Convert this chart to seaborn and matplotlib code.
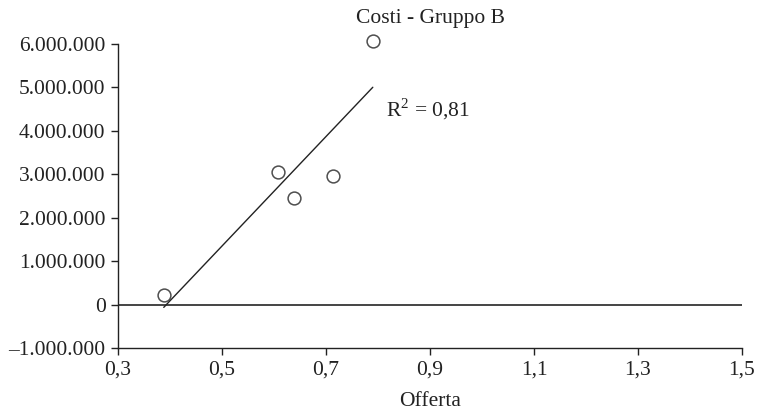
import matplotlib
matplotlib.use("Agg")
import matplotlib.pyplot as plt
import matplotlib.ticker as mticker
import seaborn as sns
import pandas as pd

offerta = [0.388, 0.608, 0.638, 0.713, 0.790]
costi = [220000, 3060000, 2460000, 2960000, 6070000]
x_ticks = [0.3, 0.5, 0.7, 0.9, 1.1, 1.3, 1.5]
y_ticks = [-1000000, 0, 1000000, 2000000, 3000000, 4000000, 5000000, 6000000]
title = "Costi - Gruppo B"
r2_label = "R$^2$ = 0,81"

df = pd.DataFrame({"Offerta": offerta, "Costi": costi})

sns.set_style("white")
plt.rcParams["font.family"] = ["Liberation Serif", "DejaVu Serif"]
plt.rcParams["mathtext.fontset"] = "custom"
plt.rcParams["mathtext.rm"] = "Liberation Serif"

FS = 15.5
fig = plt.figure(figsize=(7.59, 4.16), dpi=100)
ax = fig.add_axes([118/759, 1-348/416, (742-118)/759, (348-44)/416])

sns.regplot(data=df, x="Offerta", y="Costi", ci=None, ax=ax,
            scatter_kws=dict(s=85, facecolors="white", edgecolors="#222222",
                             linewidths=1.1, clip_on=False, zorder=3),
            line_kws=dict(color="#222222", lw=1.0, clip_on=False))

ax.axhline(0, color="#444444", lw=1.4, zorder=1)

ax.set_xlim(0.3, 1.5)
ax.set_ylim(-1000000, 6000000)
ax.set_xticks(x_ticks)
ax.set_yticks(y_ticks)

def fmt_x(v, pos):
    return f"{v:.1f}".replace(".", ",")

def fmt_y(v, pos):
    s = f"{abs(int(round(v))):,}".replace(",", ".")
    return ("\u2013" + s) if v < 0 else s

ax.xaxis.set_major_formatter(mticker.FuncFormatter(fmt_x))
ax.yaxis.set_major_formatter(mticker.FuncFormatter(fmt_y))

for s in ["top", "right"]:
    ax.spines[s].set_visible(False)
for s in ["left", "bottom"]:
    ax.spines[s].set_color("#222222")
    ax.spines[s].set_linewidth(1.0)

ax.tick_params(axis="both", direction="out", length=5, width=1.0,
               color="#222222", labelsize=FS, labelcolor="#222222",
               left=True, bottom=True, pad=4)

ax.set_xlabel("Offerta", fontsize=FS, color="#222222", labelpad=9)
ax.set_ylabel("")
ax.set_title(title, fontsize=FS, color="#222222", pad=15)

ax.text(0.815, 4500000, r2_label, fontsize=FS, color="#222222", va="center", ha="left")

fig.savefig("out.png", dpi=100)
